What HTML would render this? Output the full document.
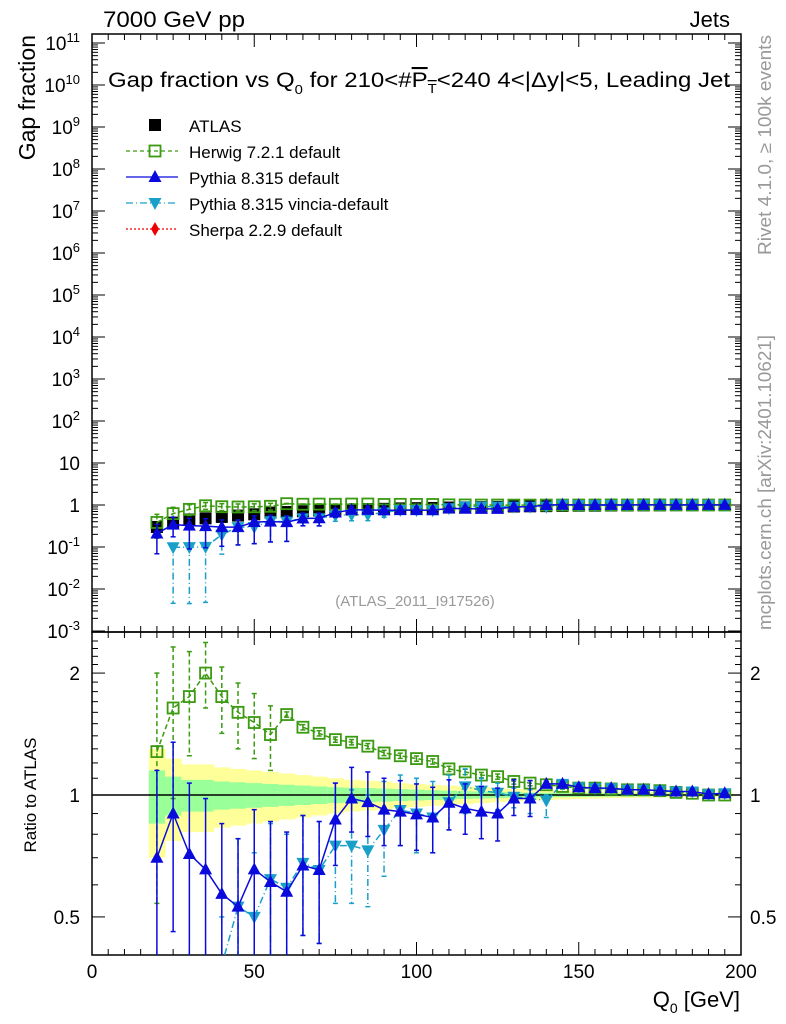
<!DOCTYPE html>
<html><head><meta charset="utf-8"><style>
html,body{margin:0;background:#fff;overflow:hidden;width:786px;height:1024px;}
svg{display:block;font-family:"Liberation Sans",sans-serif;}
</style></head><body>
<svg id="c" width="786" height="1024" viewBox="0 0 786 1024"></svg>
<script>
const qValues=[20,25,30,35,40,45,50,55,60,65,70,75,80,85,90,95,100,105,110,115,120,125,130,135,140,145,150,155,160,165,170,175,180,185,190,195];
const atlasValues=[0.30,0.38,0.45,0.48,0.52,0.56,0.60,0.66,0.68,0.71,0.74,0.76,0.78,0.80,0.81,0.83,0.84,0.85,0.87,0.88,0.89,0.90,0.92,0.93,0.94,0.95,0.96,0.96,0.97,0.97,0.98,0.98,0.99,0.99,1.0,1.0];
const atlasYellowErr=[0.30,0.23,0.19,0.19,0.17,0.16,0.15,0.14,0.13,0.12,0.11,0.10,0.09,0.085,0.08,0.07,0.065,0.06,0.055,0.05,0.045,0.04,0.035,0.03,0.028,0.025,0.022,0.02,0.018,0.016,0.015,0.014,0.013,0.012,0.011,0.01];
const atlasGreenErr=[0.15,0.11,0.09,0.09,0.08,0.075,0.07,0.065,0.06,0.055,0.05,0.045,0.042,0.04,0.037,0.034,0.031,0.028,0.025,0.022,0.02,0.018,0.016,0.014,0.013,0.012,0.011,0.01,0.009,0.008,0.008,0.007,0.007,0.006,0.006,0.005];
const herwigRatio=[1.28,1.64,1.75,2.00,1.75,1.60,1.51,1.41,1.58,1.47,1.42,1.37,1.35,1.32,1.27,1.25,1.23,1.21,1.16,1.14,1.12,1.11,1.08,1.07,1.06,1.05,1.04,1.04,1.035,1.03,1.03,1.025,1.015,1.01,1.0,1.0];
const herwigHi=[2.0,2.32,2.26,2.38,2.07,1.89,1.78,1.66,null,null,null,null,null,null,null,null,null,null,null,null,null,null,null,null,null,null,null,null,null,null,null,null,null,null,null,null];
const herwigLo=[0.54,0.98,1.25,1.64,1.42,1.30,1.23,1.15,null,null,null,null,null,null,null,null,null,null,null,null,null,null,null,null,null,null,null,null,null,null,null,null,null,null,null,null];
const pythiaRatio=[0.70,0.90,0.715,0.655,0.57,0.53,0.655,0.61,0.577,0.67,0.653,0.87,0.98,0.96,0.92,0.91,0.896,0.88,0.957,0.927,0.91,0.90,0.98,0.98,1.065,1.065,1.045,1.04,1.04,1.03,1.03,1.025,1.02,1.02,1.005,1.01];
const pythiaHi=[1.15,1.35,1.07,0.98,0.85,0.78,0.92,0.86,0.81,0.89,0.86,1.07,1.17,1.14,1.10,1.085,1.065,1.045,1.09,1.065,1.05,1.04,1.09,1.085,null,null,null,null,null,null,null,null,null,null,null,null];
const pythiaLo=[0.23,0.46,0.2,0.2,0.2,0.2,0.2,0.2,0.2,0.45,0.43,0.67,0.81,0.79,0.75,0.75,0.73,0.72,0.82,0.80,0.78,0.77,0.89,0.885,null,null,null,null,null,null,null,null,null,null,null,null];
const vinciaRatio=[null,0.26,0.22,0.21,0.38,0.53,0.50,0.62,0.59,0.68,0.653,0.75,0.75,0.73,0.82,0.918,0.90,0.88,0.96,1.05,1.025,1.013,0.99,0.98,0.97,1.065,1.045,1.04,1.04,1.03,1.03,1.025,1.02,1.02,1.005,1.01];
const vinciaHi=[null,0.30,0.25,0.24,0.5,0.78,0.72,0.85,0.8,0.89,0.86,1.07,1.03,1.0,1.08,1.12,1.10,1.08,1.12,1.16,1.10,1.07,1.04,1.03,1.0,null,null,null,null,null,null,null,null,null,null,null];
const vinciaLo=[null,0.012,0.01,0.01,0.13,0.2,0.2,0.2,0.2,0.45,0.43,0.54,0.54,0.53,0.63,0.75,0.72,0.72,0.82,0.90,0.90,0.92,0.93,0.90,0.88,null,null,null,null,null,null,null,null,null,null,null];
const mainTickExps=[-3,-2,-1,0,1,2,3,4,5,6,7,8,9,10,11];
const xTickLabels=[0,50,100,150,200];
const ratioTickLabels=[0.5,1,2];

const NS="http://www.w3.org/2000/svg";
const svg=document.getElementById('c');
const L=92,R=741,T=34,MB=632,RB=955;
function X(q){return L+(R-L)*q/200;}
function YM(v){return 505-42*Math.log10(v);}
function YR(r){return 795-405*Math.log10(r);}
function el(tag,attrs,parent){const e=document.createElementNS(NS,tag);for(const k in attrs)e.setAttribute(k,attrs[k]);(parent||svg).appendChild(e);return e;}
function txt(x,y,s,attrs,parent){const t=el('text',Object.assign({x:x,y:y},attrs),parent);t.textContent=s;return t;}

const defs=el('defs',{});
const cm=el('clipPath',{id:'cm'},defs);el('rect',{x:L,y:T,width:R-L,height:MB-T},cm);
const cr=el('clipPath',{id:'cr'},defs);el('rect',{x:L,y:MB,width:R-L,height:RB-MB},cr);

const bands=el('g',{'clip-path':'url(#cr)'});


qValues.forEach((q,i)=>{
  const x0=X(q-2.5),w=X(q+2.5)-x0;
  const y1=el('rect',{x:x0,y:YR(1+atlasYellowErr[i]),width:w+0.5,height:YR(1-atlasYellowErr[i])-YR(1+atlasYellowErr[i]),fill:'#ffff99'},bands);
  
  
  const g1=el('rect',{x:x0,y:YR(1+atlasGreenErr[i]),width:w+0.5,height:YR(1-atlasGreenErr[i])-YR(1+atlasGreenErr[i]),fill:'#99ff99'},bands);
  
  
});
el('line',{x1:L,x2:R,y1:YR(1),y2:YR(1),stroke:'#000','stroke-width':1.5});

el('rect',{x:L,y:T,width:R-L,height:MB-T,fill:'none',stroke:'#000','stroke-width':1.5});
el('rect',{x:L,y:MB,width:R-L,height:RB-MB,fill:'none',stroke:'#000','stroke-width':1.5});

for(let q=0;q<=200;q+=5){
  const maj=q%50===0,len=maj?13:6;
  [[T,1],[MB,-1],[MB,1],[RB,-1]].forEach(([y,d])=>el('line',{x1:X(q),x2:X(q),y1:y,y2:y+d*len,stroke:'#000','stroke-width':1}));
}
xTickLabels.forEach(v=>{const t=txt(X(v),978,String(v),{'font-size':19,'text-anchor':'middle'});

});
mainTickExps.forEach(e=>{
  const y=YM(Math.pow(10,e));
  el('line',{x1:L,x2:L+13,y1:y,y2:y,stroke:'#000'});el('line',{x1:R,x2:R-13,y1:y,y2:y,stroke:'#000'});
  for(let m=2;m<10&&e<11;m++){const ym=YM(m*Math.pow(10,e));el('line',{x1:L,x2:L+6,y1:ym,y2:ym,stroke:'#000'});el('line',{x1:R,x2:R-6,y1:ym,y2:ym,stroke:'#000'});}
  let t;
  if(e===0)t=txt(80,y+7,'1',{'font-size':19,'text-anchor':'end'});
  else if(e===1)t=txt(80,y+7,'10',{'font-size':19,'text-anchor':'end'});
  else{t=txt(80,y+7,'10',{'font-size':19,'text-anchor':'end'});const s=el('tspan',{dy:-8,'font-size':13},t);s.textContent=String(e);}
  
  
});
for(let r=0.4;r<=2.5;r+=0.1){const y=YR(r);if(y<MB||y>RB)continue;const big=Math.abs(r-0.5)<1e-6||Math.abs(r-1)<1e-6||Math.abs(r-2)<1e-6;
 el('line',{x1:L,x2:L+(big?13:6),y1:y,y2:y,stroke:'#000'});el('line',{x1:R,x2:R-(big?13:6),y1:y,y2:y,stroke:'#000'});}
ratioTickLabels.forEach(r=>{const y=YR(r)+7;
 const a=txt(80,y,String(r),{'font-size':19,'text-anchor':'end'});
 const b=txt(750,y,String(r),{'font-size':19});});

function marker(g,type,x,y,color){
  if(type==='sq')return el('rect',{x:x-6,y:y-6,width:12,height:12,fill:'#000'},g);
  if(type==='osq')return el('rect',{x:x-5.5,y:y-5.5,width:11,height:11,fill:'none',stroke:color,'stroke-width':1.8},g);
  if(type==='tri')return el('polygon',{points:`${x},${y-7} ${x-6.5},${y+5} ${x+6.5},${y+5}`,fill:color},g);
  if(type==='itri')return el('polygon',{points:`${x},${y+7} ${x-6.5},${y-5} ${x+6.5},${y-5}`,fill:color},g);
}
function series(name,ratio,hi,lo,color,dash,type){
  ['main','ratio'].forEach(panel=>{
    const g=el('g',{'clip-path':panel==='main'?'url(#cm)':'url(#cr)'});
    
    
    const Y=panel==='main'?(i,r)=>YM(r*atlasValues[i]):(i,r)=>YR(r);
    let pts=[];
    ratio.forEach((r,i)=>{if(r==null)return;pts.push(X(qValues[i])+','+Y(i,r));});
    el('polyline',{points:pts.join(' '),fill:'none',stroke:color,'stroke-width':1.5,'stroke-dasharray':dash},g);
    ratio.forEach((r,i)=>{if(r==null)return;const x=X(qValues[i]);
      const h=hi[i]!=null?hi[i]:r*1.015,l=lo[i]!=null?lo[i]:r*0.985;
      el('line',{x1:x,x2:x,y1:Y(i,h),y2:Y(i,l),stroke:color,'stroke-width':1.5,'stroke-dasharray':dash},g);
      el('line',{x1:x-2.5,x2:x+2.5,y1:Y(i,h),y2:Y(i,h),stroke:color,'stroke-width':1.5},g);
      el('line',{x1:x-2.5,x2:x+2.5,y1:Y(i,l),y2:Y(i,l),stroke:color,'stroke-width':1.5},g);
      const m=marker(g,type,x,Y(i,r),color);
      
      
    });
  });
}
const ag=el('g',{'clip-path':'url(#cm)'});


atlasValues.forEach((v,i)=>{const x=X(qValues[i]);
  el('line',{x1:x,x2:x,y1:YM(v*(1+atlasYellowErr[i])),y2:YM(v*(1-atlasYellowErr[i])),stroke:'#000','stroke-width':1.5},ag);
  const m=marker(ag,'sq',x,YM(v));
  ag.appendChild(m);
  
  
});
series('herwig',herwigRatio,herwigHi,herwigLo,'#3a9a10','5,3','osq');
series('pythia-vincia',vinciaRatio,vinciaHi,vinciaLo,'#1aa0c8','7,3,1,3','itri');
series('pythia-default',pythiaRatio,pythiaHi,pythiaLo,'#0a0adc','','tri');

const lg=el('g',{});


const legItems=[['ATLAS','#000','','sq'],['Herwig 7.2.1 default','#3a9a10','4,3','osq'],['Pythia 8.315 default','#0a0adc','','tri'],['Pythia 8.315 vincia-default','#1aa0c8','7,3,1,3','itri'],['Sherpa 2.2.9 default','#e00','2,2','dia']];
legItems.forEach((it,k)=>{const y=125+k*26;
  const e=el('g',{},lg);
  
  
  if(k>0)el('line',{x1:126,x2:178,y1:y,y2:y,stroke:it[1],'stroke-width':1.3,'stroke-dasharray':it[2]},e);
  if(it[3]==='dia')el('polygon',{points:`155,${y-7} 159,${y} 155,${y+7} 151,${y}`,fill:it[1]},e);
  else marker(e,it[3],155,y,it[1]);
  txt(189,y+7,it[0],{'font-size':17},e);
});

function named(t,n){return t;}
named(txt(103,27,'7000 GeV pp',{'font-size':22,textLength:142,lengthAdjust:'spacingAndGlyphs'}),'energy-label');
named(txt(730,27,'Jets',{'font-size':22,'text-anchor':'end'}),'process-label');
const ti=named(txt(108,87,'',{'font-size':21,textLength:622,lengthAdjust:'spacingAndGlyphs','xml:space':'preserve'}),'plot-title');
ti.innerHTML='Gap fraction vs Q<tspan dy="7" font-size="13">0</tspan><tspan dy="-7"> for 210&lt;#</tspan><tspan text-decoration="overline">P<tspan dy="6" font-size="13">T</tspan></tspan><tspan dy="-6">&lt;240  4&lt;|Δy|&lt;5, Leading Jet</tspan>';
named(txt(0,0,'Gap fraction',{'font-size':23,'text-anchor':'end',transform:'translate(35,35) rotate(-90)'}),'y-axis-title');
named(txt(0,0,'Ratio to ATLAS',{'font-size':17,'text-anchor':'middle',transform:'translate(36,795) rotate(-90)'}),'ratio-axis-title');
const xl=named(txt(740,1007,'',{'font-size':22,'text-anchor':'end'}),'x-axis-title');
xl.innerHTML='Q<tspan dy="6" font-size="14">0</tspan><tspan dy="-6"> [GeV]</tspan>';
named(txt(415,606,'(ATLAS_2011_I917526)',{'font-size':15,fill:'#999','text-anchor':'middle'}),'analysis-id');
named(txt(0,0,'Rivet 4.1.0, ≥ 100k events',{'font-size':18,fill:'#999','text-anchor':'end',textLength:220,lengthAdjust:'spacingAndGlyphs',transform:'translate(771,35) rotate(-90)'}),'rivet-label');
named(txt(0,0,'mcplots.cern.ch [arXiv:2401.10621]',{'font-size':18,fill:'#999','text-anchor':'end',textLength:295,lengthAdjust:'spacingAndGlyphs',transform:'translate(771,335) rotate(-90)'}),'mcplots-label');
</script>
</body></html>
